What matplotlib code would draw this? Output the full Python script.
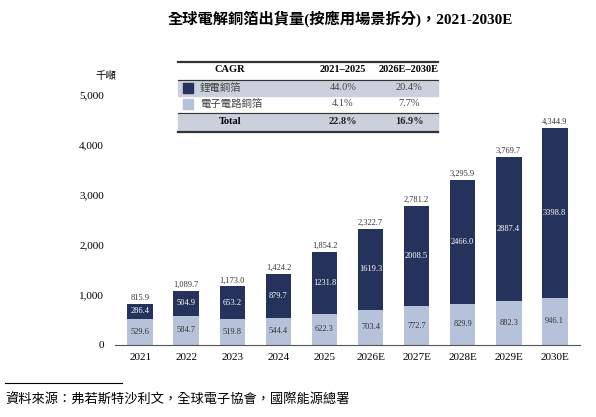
import matplotlib
matplotlib.use("Agg")
import matplotlib.pyplot as plt
from matplotlib.patches import Rectangle
from matplotlib.lines import Line2D

years = ["2021","2022","2023","2024","2025","2026E","2027E","2028E","2029E","2030E"]
circuit = [529.6,584.7,519.8,544.4,622.3,703.4,772.7,829.9,882.3,946.1]
lithium = [286.4,504.9,653.2,879.7,1231.8,1619.3,2008.5,2466.0,2887.4,3398.8]
totals = [815.9,1089.7,1173.0,1424.2,1854.2,2322.7,2781.2,3295.9,3769.7,4344.9]
tbl_rows = [("鋰電銅箔","44.0%","20.4%"),("電子電路銅箔","4.1%","7.7%"),("Total","22.8%","16.9%")]

FAM = ['Liberation Serif','Noto Sans CJK TC']
plt.rcParams['font.family'] = FAM
DARK = "#25335c"; LIGHT = "#b6c1da"; GREY = "#cbd1dc"

W, H = 596, 417
fig = plt.figure(figsize=(W/100, H/100), dpi=100)
ax = fig.add_axes([115/W, 1-345/H, 465/W, 250/H])
x = range(len(years))
ax.bar(x, circuit, width=0.56, color=LIGHT)
ax.bar(x, lithium, bottom=circuit, width=0.56, color=DARK)
for i in x:
    ax.text(i, circuit[i]/2, f"{circuit[i]:.1f}", ha='center', va='center', fontsize=6, color='#333333')
    ax.text(i, circuit[i]+lithium[i]/2, f"{lithium[i]:.1f}", ha='center', va='center', fontsize=6, color='white')
    ax.text(i, totals[i]+40, f"{totals[i]:,.1f}", ha='center', va='bottom', fontsize=6, color='#333333')
ax.set_xlim(-0.55, 9.55); ax.set_ylim(0, 5000)
ax.set_xticks(list(x)); ax.set_xticklabels(years, fontsize=8)
ax.set_yticks(range(0,5001,1000)); ax.set_yticklabels([f"{v:,}" for v in range(0,5001,1000)], fontsize=8)
for s in ['top','right','left']: ax.spines[s].set_visible(False)
ax.spines['bottom'].set_color('#555555')
ax.tick_params(axis='y', length=0, pad=8)
ax.tick_params(axis='x', length=0, pad=6)
ax.grid(False)

def fx(px): return px/W
def fy(py): return 1-py/H
fig.text(fx(340), fy(19), "全球電解銅箔出貨量(按應用場景拆分)，2021-2030E", ha='center', va='center', fontsize=11, fontweight='bold')
fig.text(fx(95), fy(76), "千噸", ha='left', va='center', fontsize=7.5)

# table
L, R = 178, 438
fig.add_artist(Rectangle((fx(L), fy(96)), fx(R)-fx(L), 16/H, color=GREY, transform=fig.transFigure))
fig.add_artist(Rectangle((fx(L), fy(131)), fx(R)-fx(L), 18/H, color=GREY, transform=fig.transFigure))
for py, lw in [(62,1.6),(80,0.8),(113,0.8),(132,1.6)]:
    fig.add_artist(Line2D([fx(L), fx(R)], [fy(py)]*2, color='#333333', lw=lw, transform=fig.transFigure))
fig.text(fx(230), fy(70), "CAGR", ha='center', va='center', fontsize=7.5, fontweight='bold')
fig.text(fx(343), fy(70), "2021–2025", ha='center', va='center', fontsize=7.5, fontweight='bold')
fig.text(fx(409), fy(70), "2026E–2030E", ha='center', va='center', fontsize=7.5, fontweight='bold')
ys = [88, 104, 122]
for (lab, a, b), py, c in zip(tbl_rows, ys, [DARK, LIGHT, None]):
    bold = lab == "Total"
    if c:
        fig.add_artist(Rectangle((fx(183), fy(py+5)), 10/W, 10/H, color=c, transform=fig.transFigure))
        fig.text(fx(200), fy(py), lab, ha='left', va='center', fontsize=7.5, color='#444444')
    else:
        fig.text(fx(230), fy(py), lab, ha='center', va='center', fontsize=7.5, fontweight='bold')
    fig.text(fx(343), fy(py), a, ha='center', va='center', fontsize=7.5, fontweight='bold' if bold else 'normal', color='#222222' if bold else '#444444')
    fig.text(fx(409), fy(py), b, ha='center', va='center', fontsize=7.5, fontweight='bold' if bold else 'normal', color='#222222' if bold else '#444444')

fig.add_artist(Line2D([fx(5), fx(122)], [fy(383)]*2, color='black', lw=0.8, transform=fig.transFigure))
fig.text(fx(5), fy(400), "資料來源：弗若斯特沙利文，全球電子協會，國際能源總署", ha='left', va='center', fontsize=9.5, style='italic')
fig.savefig("out.png", dpi=100)
